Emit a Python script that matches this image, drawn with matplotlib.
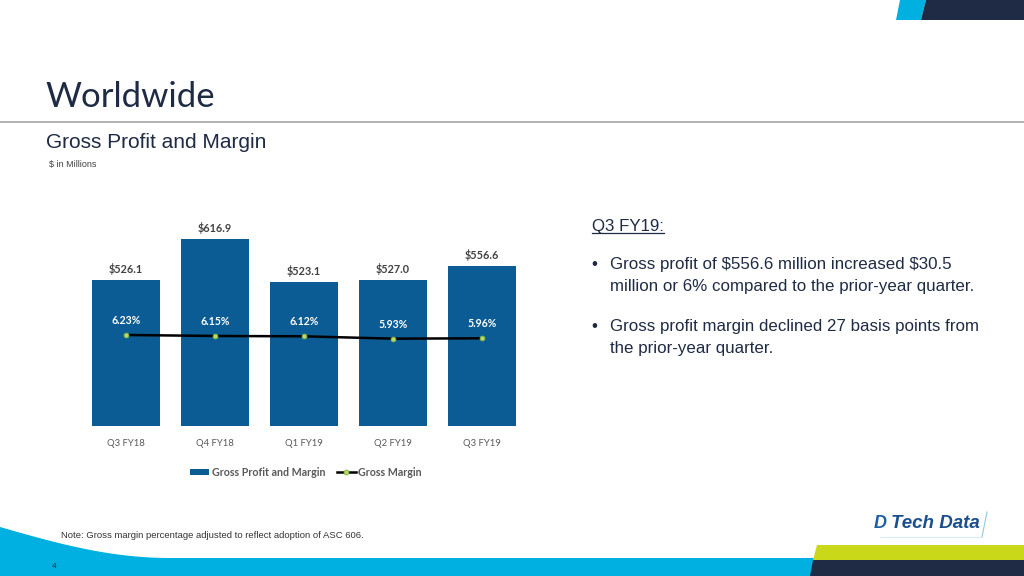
import matplotlib
matplotlib.use("Agg")
import matplotlib.pyplot as plt
from matplotlib.patches import Polygon
import numpy as np

plt.rcParams["text.parse_math"] = False

# ---- data ----
quarters = ["Q3 FY18", "Q4 FY18", "Q1 FY19", "Q2 FY19", "Q3 FY19"]
gross_profit = [526.1, 616.9, 523.1, 527.0, 556.6]
gross_margin = [6.23, 6.15, 6.12, 5.93, 5.96]
profit_labels = ["$526.1", "$616.9", "$523.1", "$527.0", "$556.6"]
margin_labels = ["6.23%", "6.15%", "6.12%", "5.93%", "5.96%"]

W, H = 1024, 576
NAVY = "#1F2B44"
BAR = "#0B5C94"
CYAN = "#00B0E0"
LIME = "#C9D818"
GRAY = "#595959"

fig = plt.figure(figsize=(10.24, 5.76), dpi=100)
fig.patch.set_facecolor("white")

# ---- background decoration axes (pixel coords) ----
bg = fig.add_axes([0, 0, 1, 1])
bg.set_xlim(0, W)
bg.set_ylim(H, 0)
bg.axis("off")

# top right blocks
bg.add_patch(Polygon([[900, 0], [926, 0], [921, 20], [896, 20]], closed=True, color=CYAN, lw=0))
bg.add_patch(Polygon([[926, 0], [W, 0], [W, 20], [921, 20]], closed=True, color=NAVY, lw=0))

# title separator line
bg.plot([0, W], [122, 122], color="#A6A6A6", lw=1.2)

# bottom cyan wave
xs = np.linspace(0, 170, 60)
ys = 527 + (558 - 527) * np.sin(np.pi / 2 * xs / 170)
wave = [[0, H]] + [[x, y] for x, y in zip(xs, ys)] + [[820, 558], [820, H]]
bg.add_patch(Polygon(wave, closed=True, color=CYAN, lw=0))
# lime and navy blocks
bg.add_patch(Polygon([[817, 545], [W, 545], [W, 560], [813, 560]], closed=True, color=LIME, lw=0))
bg.add_patch(Polygon([[813, 560], [W, 560], [W, H], [810, H]], closed=True, color=NAVY, lw=0))

# titles
bg.text(45, 97, "Worldwide", fontsize=25, color=NAVY, family=["Lato", "DejaVu Sans"],
        fontweight="normal", va="center", ha="left")
bg.text(46, 143, "Gross Profit and Margin", fontsize=15, color=NAVY,
        family=["Liberation Sans", "DejaVu Sans"], va="center", ha="left")
bg.text(49, 164, "$ in Millions", fontsize=6.5, color="#404040",
        family=["Liberation Sans", "DejaVu Sans"], va="center", ha="left")

# right commentary
tfam = ["Liberation Sans", "DejaVu Sans"]
FS = 12.2
bg.text(592, 226, "Q3 FY19:", fontsize=FS, color=NAVY, family=tfam, va="center", ha="left")
bg.plot([592, 664], [233, 233], color=NAVY, lw=0.9)
bg.text(591, 264, "\u2022", fontsize=FS, color=NAVY, family=tfam, va="center", ha="left")
bg.text(610, 264, "Gross profit of $556.6 million increased $30.5", fontsize=FS, color=NAVY,
        family=tfam, va="center", ha="left")
bg.text(610, 287, "million or 6% compared to the prior-year quarter.", fontsize=FS, color=NAVY,
        family=tfam, va="center", ha="left")
bg.text(591, 326, "\u2022", fontsize=FS, color=NAVY, family=tfam, va="center", ha="left")
bg.text(610, 326, "Gross profit margin declined 27 basis points from", fontsize=FS, color=NAVY,
        family=tfam, va="center", ha="left")
bg.text(610, 348, "the prior-year quarter.", fontsize=FS, color=NAVY,
        family=tfam, va="center", ha="left")

# footer
bg.text(61, 535, "Note: Gross margin percentage adjusted to reflect adoption of ASC 606.",
        fontsize=6.8, color="#333333", family=tfam, va="center", ha="left")
bg.text(52, 567, "4", fontsize=6, color=NAVY, family=tfam, va="center", ha="left")

# logo
bg.text(874, 524, "D", fontsize=13, color="#1C5FA8", fontweight="bold", style="italic",
        family=tfam, va="center", ha="left")
bg.text(891, 524, "Tech Data", fontsize=13.5, color="#1B4F8C", fontweight="bold", style="italic",
        family=tfam, va="center", ha="left")
bg.plot([987, 982], [512, 537], color="#8FC9E8", lw=0.8)
bg.plot([880, 982], [537, 537], color="#CFE6F3", lw=0.6)

# ---- chart axes ----
left_px, right_px, top_px, bot_px = 81.5, 526.5, 210, 426
ax = fig.add_axes([left_px / W, (H - bot_px) / H, (right_px - left_px) / W, (bot_px - top_px) / H])
x = np.arange(len(quarters))
bars = ax.bar(x, gross_profit, width=0.77, color=BAR, label="Gross Profit and Margin", zorder=2)
ax.set_xlim(-0.5, len(quarters) - 0.5)
ax.set_ylim(206, 680.7)
for s in ax.spines.values():
    s.set_visible(False)
ax.set_yticks([])
ax.set_xticks(x)
ax.set_xticklabels(quarters, fontsize=6.8, color=GRAY, family=["Lato", "DejaVu Sans"])
ax.tick_params(axis="x", length=0, pad=9)
ax.patch.set_alpha(0)

for xi, v, lab in zip(x, gross_profit, profit_labels):
    ax.annotate(lab, (xi, v), xytext=(0, 8), textcoords="offset points", ha="center",
                va="center", fontsize=7.8, fontweight="bold", color="#404040",
                family=["Lato", "DejaVu Sans"])

ax2 = ax.twinx()
ax2.set_ylim(-1.17, 16.39)
line, = ax2.plot(x, gross_margin, color="black", lw=1.8, marker="o", markersize=3.5,
                 markerfacecolor="#B5D96B", markeredgecolor="#7FB23A", markeredgewidth=0.6,
                 label="Gross Margin", zorder=3)
for s in ax2.spines.values():
    s.set_visible(False)
ax2.set_yticks([])
for xi, v, lab in zip(x, gross_margin, margin_labels):
    ax2.annotate(lab, (xi, v), xytext=(0, 10.5), textcoords="offset points", ha="center",
                 va="center", fontsize=7.6, fontweight="bold", color="white",
                 family=["Lato", "DejaVu Sans"])

leg = ax2.legend([bars, line], ["Gross Profit and Margin", "Gross Margin"],
                 loc="center", bbox_to_anchor=(306 / W, (H - 472) / H),
                 bbox_transform=fig.transFigure, ncol=2, frameon=False,
                 prop={"family": ["Lato", "DejaVu Sans"], "weight": "bold", "size": 7.7},
                 handlelength=1.8, handleheight=0.5, handletextpad=0.2, columnspacing=1.1)
for t in leg.get_texts():
    t.set_color(GRAY)

fig.savefig("out.png", dpi=100, facecolor="white")
